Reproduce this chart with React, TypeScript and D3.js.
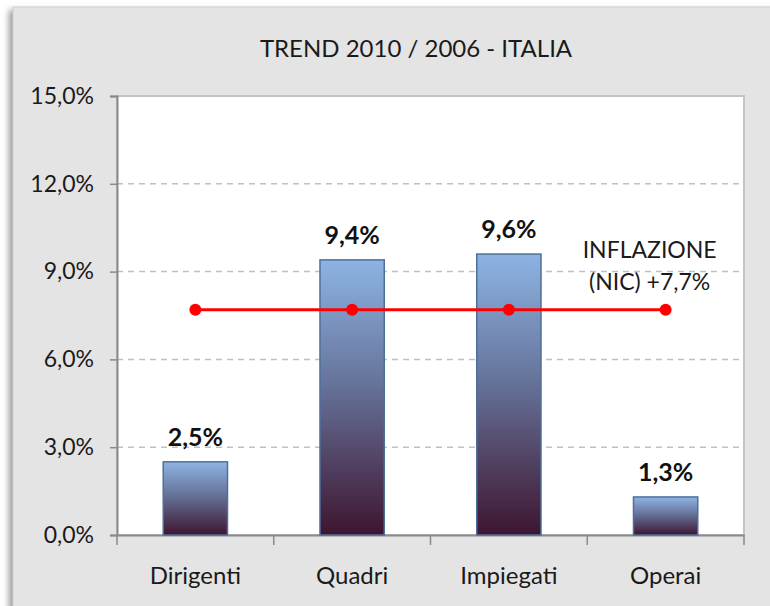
import { useEffect, useRef } from "react";
import * as d3 from "d3";

// chart data
const categories = ["Dirigenti", "Quadri", "Impiegati", "Operai"];
const values = [2.5, 9.4, 9.6, 1.3];
const inflation = [7.7, 7.7, 7.7, 7.7];
const yTicks = [0, 3, 6, 9, 12, 15];
const title = "TREND 2010 / 2006 - ITALIA";
const inflationLabel = ["INFLAZIONE", "(NIC) +7,7%"];

const fmt = (v: number) => v.toFixed(1).replace(".", ",") + "%";

export default function App() {
    const svgRef = useRef<SVGSVGElement | null>(null);

    useEffect(() => {
        if (!svgRef.current) return;
        const root = d3.select(svgRef.current);
        root.selectAll("*").remove();

        const width = 770;
        const height = 606;
        const margin = { top: 96, right: 26, bottom: 71, left: 117 };
        const innerWidth = width - margin.left - margin.right;
        const innerHeight = height - margin.top - margin.bottom;
        const font = "Lato, 'Open Sans', sans-serif";

        const defs = root.append("defs");
        const grad = defs
            .append("linearGradient")
            .attr("id", "barGrad")
            .attr("x1", 0)
            .attr("y1", 0)
            .attr("x2", 0)
            .attr("y2", 1);
        grad.append("stop").attr("offset", "0%").attr("stop-color", "#8db4e3");
        grad.append("stop").attr("offset", "45%").attr("stop-color", "#66739a");
        grad.append("stop").attr("offset", "100%").attr("stop-color", "#3e1530");

        const blur = defs.append("filter").attr("id", "shadow").attr("x", "-10%").attr("y", "-10%").attr("width", "120%").attr("height", "120%");
        blur.append("feGaussianBlur").attr("stdDeviation", 3);

        // outer frame
        root.append("rect")
            .attr("x", 9)
            .attr("y", 10)
            .attr("width", 780)
            .attr("height", 620)
            .attr("fill", "#9a9a9a")
            .attr("filter", "url(#shadow)");
        root.append("rect")
            .attr("x", 13)
            .attr("y", 7)
            .attr("width", 780)
            .attr("height", 620)
            .attr("fill", "#e4e4e4")
            .attr("stroke", "#cfcfcf");

        // title
        root.append("text")
            .attr("x", 416)
            .attr("y", 57)
            .attr("text-anchor", "middle")
            .attr("font-family", font)
            .attr("font-size", "24px")
            .attr("fill", "#1a1a1a")
            .text(title);

        const svg = root.append("g").attr("transform", `translate(${margin.left},${margin.top})`);

        const x = d3.scaleBand().domain(categories).range([0, innerWidth]).paddingInner(0).paddingOuter(0);
        const y = d3.scaleLinear().domain([0, 15]).range([innerHeight, 0]);

        // plot area
        svg.append("rect")
            .attr("width", innerWidth)
            .attr("height", innerHeight)
            .attr("fill", "#ffffff")
            .attr("stroke", "#c4c4c4")
            .attr("stroke-width", 2);

        // gridlines
        svg.selectAll(".grid")
            .data(yTicks.filter((d) => d > 0 && d < 15))
            .enter()
            .append("line")
            .attr("x1", 0)
            .attr("x2", innerWidth)
            .attr("y1", (d) => y(d))
            .attr("y2", (d) => y(d))
            .attr("stroke", "#c0c0c0")
            .attr("stroke-width", 1.5)
            .attr("stroke-dasharray", "6,5");

        // Y axis
        const yAxis = svg
            .append("g")
            .call(d3.axisLeft(y).tickValues(yTicks).tickFormat((d) => fmt(+d)).tickSize(7).tickPadding(16));
        yAxis.select(".domain").attr("stroke", "#8a8a8a").attr("stroke-width", 2);
        yAxis.selectAll(".tick line").attr("stroke", "#8a8a8a").attr("stroke-width", 1.5);
        yAxis.selectAll("text")
            .attr("font-family", font)
            .attr("font-size", "23px")
            .attr("fill", "#1a1a1a");

        // X axis
        const xAxis = svg
            .append("g")
            .attr("transform", `translate(0,${innerHeight})`)
            .call(d3.axisBottom(x).tickSize(0).tickPadding(32));
        xAxis.select(".domain").attr("stroke", "#8a8a8a").attr("stroke-width", 2);
        xAxis.selectAll("text")
            .attr("font-family", font)
            .attr("font-size", "24px")
            .attr("fill", "#1a1a1a");

        // category boundary ticks
        const bounds = categories.map((c) => x(c) || 0).concat([innerWidth]);
        svg.selectAll(".xtick")
            .data(bounds)
            .enter()
            .append("line")
            .attr("x1", (d) => d)
            .attr("x2", (d) => d)
            .attr("y1", innerHeight)
            .attr("y2", innerHeight + 10)
            .attr("stroke", "#8a8a8a")
            .attr("stroke-width", 1.5);

        // bars
        const barW = x.bandwidth() * 0.41;
        svg.selectAll(".bar")
            .data(values)
            .enter()
            .append("rect")
            .attr("x", (d, i) => (x(categories[i]) || 0) + x.bandwidth() / 2 - barW / 2)
            .attr("y", (d) => y(d))
            .attr("width", barW)
            .attr("height", (d) => innerHeight - y(d))
            .attr("fill", "url(#barGrad)")
            .attr("stroke", "#4f6f9b")
            .attr("stroke-width", 1.5);

        // bar labels
        svg.selectAll(".bar-label")
            .data(values)
            .enter()
            .append("text")
            .attr("x", (d, i) => (x(categories[i]) || 0) + x.bandwidth() / 2)
            .attr("y", (d) => y(d) - 16)
            .attr("text-anchor", "middle")
            .attr("font-family", font)
            .attr("font-weight", "bold")
            .attr("font-size", "25px")
            .attr("fill", "#111")
            .text((d) => fmt(d));

        // inflation line
        const line = d3
            .line<number>()
            .x((d, i) => (x(categories[i]) || 0) + x.bandwidth() / 2)
            .y((d) => y(d));
        svg.append("path")
            .datum(inflation)
            .attr("d", line)
            .attr("fill", "none")
            .attr("stroke", "#ff0000")
            .attr("stroke-width", 3);
        svg.selectAll(".dot")
            .data(inflation)
            .enter()
            .append("circle")
            .attr("cx", (d, i) => (x(categories[i]) || 0) + x.bandwidth() / 2)
            .attr("cy", (d) => y(d))
            .attr("r", 6)
            .attr("fill", "#ff0000");

        // inflation label
        const lastX = (x(categories[3]) || 0) + x.bandwidth() / 2;
        svg.selectAll(".infl")
            .data(inflationLabel)
            .enter()
            .append("text")
            .attr("x", lastX - 16)
            .attr("y", (d, i) => y(inflation[3]) - 52 + i * 32)
            .attr("text-anchor", "middle")
            .attr("font-family", font)
            .attr("font-size", "23px")
            .attr("fill", "#1a1a1a")
            .text((d) => d);
    }, []);

    return (
        <svg
            ref={svgRef}
            width={770}
            height={606}
            style={{ position: "absolute", left: 0, top: 0, display: "block" }}
        />
    );
}
